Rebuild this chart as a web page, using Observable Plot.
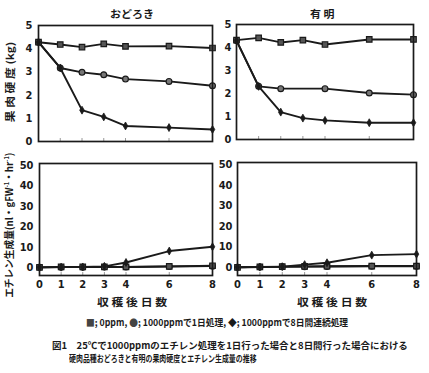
<!DOCTYPE html>
<html><head><meta charset="utf-8">
<script src="https://cdn.jsdelivr.net/npm/d3@7"></script>
<script src="https://cdn.jsdelivr.net/npm/@observablehq/plot@0.6"></script>
<style>
body{margin:0;background:#fff;}
#wrap{position:relative;width:429px;height:373px;overflow:hidden;font-family:"Noto Sans CJK JP",sans-serif;color:#1a1a1a;background:#fff;}
.p{position:absolute;}
.t{position:absolute;white-space:nowrap;line-height:1;font-weight:bold;}
</style></head><body><div id="wrap"></div>
<script>
// ---- data ----
const days = [0, 1, 2, 3, 4, 6, 8];
const ariakeDays1d = [0, 1, 2, 4, 6, 8];
const yTicksFirm = [0, 1, 2, 3, 4, 5];
const yTicksEth = [0, 10, 20, 30, 40, 50];
const titles = ["おどろき", "有 明"];

const odorokiFirm0 = [4.28, 4.18, 4.07, 4.21, 4.10, 4.11, 4.03];
const odorokiFirm1d = [4.28, 3.17, 2.98, 2.88, 2.69, 2.59, 2.40];
const odorokiFirm8d = [4.28, 3.17, 1.35, 1.06, 0.67, 0.60, 0.52];

const ariakeFirm0 = [4.32, 4.42, 4.22, 4.32, 4.13, 4.35, 4.35];
const ariakeFirm1d = [4.30, 2.31, 2.21, 2.21, 2.02, 1.95];
const ariakeFirm8d = [4.30, 2.31, 1.19, 0.93, 0.83, 0.73, 0.73];

const odorokiEth0 = [0, 0.2, 0.2, 0.2, 0.2, 0.5, 0.8];
const odorokiEth1d = [0, 0.1, 0.1, 0.2, 0.2, 0.4, 0.6];
const odorokiEth8d = [0, 0.1, 0.2, 0.5, 2.4, 8.0, 10.1];

const ariakeEth0 = [0, 0.2, 0.3, 0.4, 0.5, 0.6, 0.6];
const ariakeEth1d = [0, 0.1, 0.2, 0.3, 0.4, 0.5, 0.5];
const ariakeEth8d = [0, 0.1, 0.3, 1.3, 2.2, 5.9, 6.4];

// ---- helpers ----
const ink = "#1a1a1a";
const numFont = '"Liberation Sans Narrow","DejaVu Sans Condensed","Arial Narrow",sans-serif';
function rows(xs, ys, s) { return xs.map((d, i) => ({day: d, v: ys[i], s})); }

function panel(o) {
  const data = [...rows(o.x0, o.s0, "sq"), ...rows(o.x1, o.s1, "ci"), ...rows(o.x8, o.s8, "di")];
  const marks = [
    Plot.axisY({ticks: o.yTicks, tickFormat: d => String(d), tickSize: 0, tickPadding: o.tickPad, label: null, fontSize: 11}),
    Plot.axisX({ticks: days, tickSize: 3, dy: -3, tickFormat: () => "", stroke: "#999", label: null}),
    Plot.line(data, {x: "day", y: "v", z: "s", stroke: ink, strokeWidth: 1.9}),
    Plot.dot(data.filter(d => d.s === "ci"), {x: "day", y: "v", symbol: "circle", r: 2.9, fill: "#777", stroke: ink, strokeWidth: 1.2}),
    Plot.dot(data.filter(d => d.s === "sq"), {x: "day", y: "v", symbol: "square", r: 3.1, fill: "#555", stroke: ink, strokeWidth: 1.2}),
    Plot.dot(data.filter(d => d.s === "di"), {x: "day", y: "v", symbol: "diamond", r: 2.4, fill: ink, stroke: ink, strokeWidth: 0.8}),
    Plot.frame({stroke: ink, strokeWidth: 1.7})
  ];
  if (o.xLabels) marks.push(Plot.axisX({ticks: days, tickFormat: d => String(d), tickSize: 0, tickPadding: 5, label: null, fontSize: 11}));
  const svg = Plot.plot({
    width: o.width, height: o.height,
    marginLeft: o.ml, marginRight: o.mr, marginTop: o.mt, marginBottom: o.mb,
    style: {fontFamily: numFont, fontSize: "11px", color: ink, background: "transparent", overflow: "visible", fontWeight: "bold"},
    x: {domain: [0, 8]},
    y: {domain: o.yDomain},
    marks
  });
  svg.classList.add("p");
  svg.style.left = o.left + "px";
  svg.style.top = o.top + "px";
  document.getElementById("wrap").appendChild(svg);
}

panel({left: 0, top: 0, width: 215, height: 145, ml: 38, mr: 3, mt: 25, mb: 4, yDomain: [0, 5], yTicks: yTicksFirm, tickPad: 6,
  x0: days, s0: odorokiFirm0, x1: days, s1: odorokiFirm1d, x8: days, s8: odorokiFirm8d});
panel({left: 200, top: 0, width: 216, height: 145, ml: 36, mr: 3, mt: 24, mb: 6, yDomain: [0, 5], yTicks: yTicksFirm, tickPad: 5,
  x0: days, s0: ariakeFirm0, x1: ariakeDays1d, s1: ariakeFirm1d, x8: days, s8: ariakeFirm8d});
panel({left: 0, top: 150, width: 215, height: 145, ml: 39, mr: 3, mt: 13, mb: 20, yDomain: [-4, 51], yTicks: yTicksEth, tickPad: 6, xLabels: true,
  x0: days, s0: odorokiEth0, x1: days, s1: odorokiEth1d, x8: days, s8: odorokiEth8d});
panel({left: 200, top: 150, width: 220, height: 145, ml: 37, mr: 4, mt: 12, mb: 20, yDomain: [-4, 51], yTicks: yTicksEth, tickPad: 5, xLabels: true,
  x0: days, s0: ariakeEth0, x1: days, s1: ariakeEth1d, x8: days, s8: ariakeEth8d});

// ---- texts ----
function label(html, {cx, cy, left, width, size = 10, rotate = false}) {
  const el = document.createElement("div");
  el.className = "t";
  el.innerHTML = html;
  el.style.fontSize = size + "px";
  document.getElementById("wrap").appendChild(el);
  const w = el.offsetWidth, h = el.offsetHeight;
  const s = width ? width / w : 1;
  if (rotate) {
    el.style.left = (cx - w / 2) + "px";
    el.style.top = (cy - h / 2) + "px";
    el.style.transformOrigin = "50% 50%";
    el.style.transform = `rotate(-90deg) scaleX(${s})`;
  } else {
    const L = left !== undefined ? left : cx - (w * s) / 2;
    el.style.left = L + "px";
    el.style.top = (cy - h / 2) + "px";
    el.style.transformOrigin = "0 50%";
    el.style.transform = `scaleX(${s})`;
  }
}
label(titles[0], {cx: 132, cy: 14, size: 10.5, width: 44});
label(titles[1], {cx: 322, cy: 14, size: 10.5, width: 24});
label("果 肉 硬 度 (kg)", {cx: 10, cy: 82, size: 10, width: 81, rotate: true});
label('エチレン生成量(nl・gFW<sup style="font-size:6px">-1</sup>・hr<sup style="font-size:6px">-1</sup>)', {cx: 9, cy: 225, size: 10, width: 145, rotate: true});
label("収 穫 後 日 数", {cx: 132, cy: 302, size: 10.5, width: 70});
label("収 穫 後 日 数", {cx: 332, cy: 302, size: 10.5, width: 70});
label('<span style="color:#444">■</span>; 0ppm, <span style="color:#444">●</span>; 1000ppmで1日処理, ◆; 1000ppmで8日間連続処理', {cx: 217, cy: 323, size: 9.5, width: 262});
label("図1　25℃で1000ppmのエチレン処理を1日行った場合と8日間行った場合における", {left: 52, cy: 346, size: 9.5, width: 356});
label("硬肉品種おどろきと有明の果肉硬度とエチレン生成量の推移", {left: 69, cy: 359, size: 9.5, width: 188});
</script>
</body></html>
